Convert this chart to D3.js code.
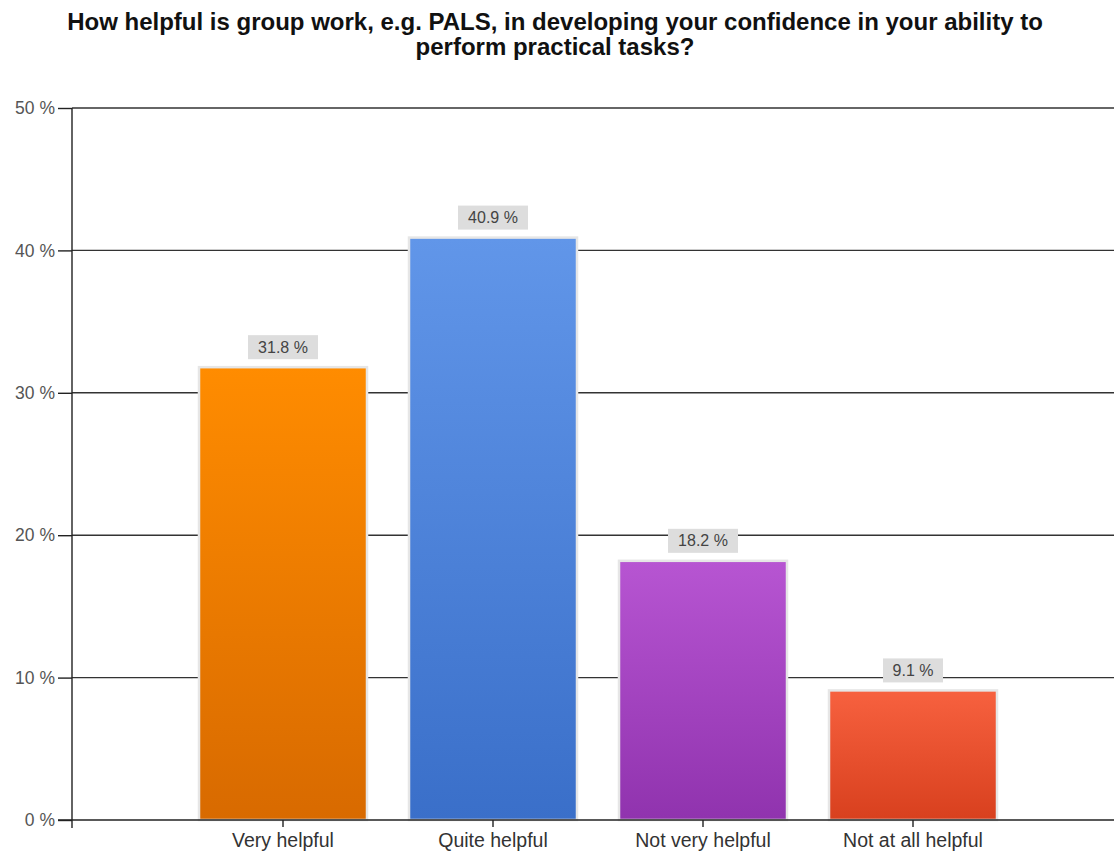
<!DOCTYPE html>
<html>
<head>
<meta charset="utf-8">
<script src="https://cdn.jsdelivr.net/npm/d3@7"></script>
<style>
body { margin: 0; background: #fff; }
svg { display: block; font-family: "Liberation Sans", Arial, sans-serif; }
</style>
</head>
<body>
<svg id="chart" width="1114" height="852"></svg>
<script>
const categories = ['Very helpful', 'Quite helpful', 'Not very helpful', 'Not at all helpful'];
const values = [31.8, 40.9, 18.2, 9.1];
const yTicks = [0, 10, 20, 30, 40, 50];
const titleLines = [
	'How helpful is group work, e.g. PALS, in developing your confidence in your ability to',
	'perform practical tasks?'
];
const barColors = [
	['#ff8c00', '#d86a00'],
	['#6196e9', '#3a6fc9'],
	['#b755d2', '#9033ae'],
	['#f7613f', '#d8401e']
];

const svg = d3.select('#chart');

const axisX = 72;
const right = 1114;

const scaleY = d3.scaleLinear()
	.domain([0, 50])
	.range([820, 108]);

const scaleX = d3.scaleBand()
	.domain(categories)
	.range([178, 1018])
	.paddingInner(0.2)
	.paddingOuter(0.1);

// title
svg.append('g')
	.selectAll('text')
	.data(titleLines)
	.join('text')
	.attr('x', 555)
	.attr('y', (d, i) => 30 + i * 25)
	.attr('text-anchor', 'middle')
	.attr('font-size', 24)
	.attr('font-weight', 'bold')
	.attr('fill', '#111')
	.text(d => d);

// gradients
const defs = svg.append('defs');
barColors.forEach((c, i) => {
	const grad = defs.append('linearGradient')
		.attr('id', 'grad' + i)
		.attr('x1', 0).attr('y1', 0)
		.attr('x2', 0).attr('y2', 1);
	grad.append('stop').attr('offset', '0%').attr('stop-color', c[0]);
	grad.append('stop').attr('offset', '100%').attr('stop-color', c[1]);
});

// gridlines
svg.append('g')
	.selectAll('line')
	.data(yTicks.filter(d => d > 0))
	.join('line')
	.attr('x1', axisX)
	.attr('x2', right)
	.attr('y1', d => scaleY(d))
	.attr('y2', d => scaleY(d))
	.attr('stroke', '#333')
	.attr('stroke-width', 1.4);

// left axis
const leftAxisG = svg.append('g')
	.attr('transform', 'translate(' + axisX + ',0)')
	.call(d3.axisLeft(scaleY)
		.tickValues(yTicks)
		.tickSize(14)
		.tickPadding(3)
		.tickFormat(d => d + ' %'));
leftAxisG.select('.domain').attr('stroke', '#222').attr('stroke-width', 1.4)
	.attr('d', 'M0,' + scaleY(50) + 'V' + (scaleY(0) + 8));
leftAxisG.selectAll('.tick line').attr('stroke', '#222').attr('stroke-width', 1.4);
leftAxisG.selectAll('.tick text')
	.attr('font-size', 17.5)
	.attr('fill', '#555')
	.attr('font-family', '"Liberation Sans", Arial, sans-serif');

// bars
const data = categories.map((c, i) => ({ cat: c, value: values[i], i: i }));

svg.append('g')
	.selectAll('rect')
	.data(data)
	.join('rect')
	.attr('x', d => scaleX(d.cat))
	.attr('y', d => scaleY(d.value))
	.attr('width', scaleX.bandwidth())
	.attr('height', d => scaleY(0) - scaleY(d.value))
	.attr('fill', d => 'url(#grad' + d.i + ')')
	.attr('stroke', '#e6e6e6')
	.attr('stroke-width', 2.5);

// bottom axis
const bottomAxisG = svg.append('g')
	.attr('transform', 'translate(0,' + scaleY(0) + ')')
	.call(d3.axisBottom(scaleX).tickSize(7).tickPadding(6).tickSizeOuter(0));
bottomAxisG.select('.domain').attr('stroke', '#222').attr('stroke-width', 1.4)
	.attr('d', 'M' + (axisX - 14) + ',0H' + right);
bottomAxisG.selectAll('.tick line').attr('stroke', '#222').attr('stroke-width', 1.4);
bottomAxisG.selectAll('.tick text')
	.attr('font-size', 19.5)
	.attr('fill', '#333')
	.attr('font-family', '"Liberation Sans", Arial, sans-serif');

// value labels
const labels = svg.append('g')
	.selectAll('g')
	.data(data)
	.join('g')
	.attr('transform', d => 'translate(' + (scaleX(d.cat) + scaleX.bandwidth() / 2) + ',' + (scaleY(d.value) - 20) + ')');

labels.append('rect')
	.attr('x', d => d.value < 10 ? -30 : -35)
	.attr('y', -12)
	.attr('width', d => d.value < 10 ? 60 : 70)
	.attr('height', 24)
	.attr('fill', '#dddddd');

labels.append('text')
	.attr('text-anchor', 'middle')
	.attr('dy', '0.35em')
	.attr('font-size', 16)
	.attr('fill', '#444')
	.text(d => d.value.toFixed(1) + ' %');
</script>
</body>
</html>
